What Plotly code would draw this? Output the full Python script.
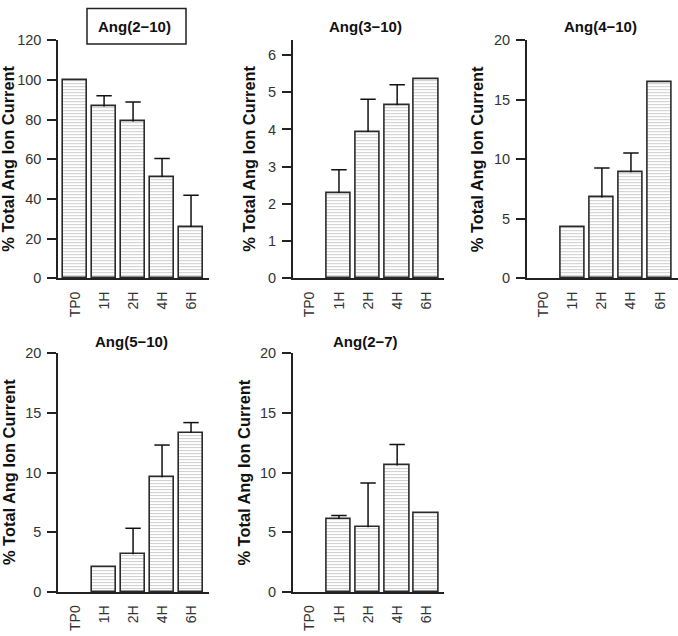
import plotly.graph_objects as go

# ---------------- data ----------------
categories = ["TP0", "1H", "2H", "4H", "6H"]

titles = ["Ang(2−10)", "Ang(3−10)", "Ang(4−10)", "Ang(5−10)", "Ang(2−7)"]

ang_2_10 = [100, 86.6, 79.0, 51.0, 25.9]
ang_2_10_err = [None, 5.4, 9.8, 9.4, 15.9]

ang_3_10 = [0, 2.29, 3.93, 4.65, 5.35]
ang_3_10_err = [None, 0.63, 0.88, 0.55, None]

ang_4_10 = [0, 4.28, 6.78, 8.91, 16.46]
ang_4_10_err = [None, None, 2.48, 1.61, None]

ang_5_10 = [0, 2.04, 3.16, 9.61, 13.33]
ang_5_10_err = [None, None, 2.17, 2.69, 0.85]

ang_2_7 = [0, 6.12, 5.41, 10.58, 6.64]
ang_2_7_err = [None, 0.27, 3.71, 1.77, None]

y_ranges = [[0, 120], [0, 6.4], [0, 20], [0, 20], [0, 20]]
y_dticks = [20, 1, 5, 5, 5]
y_title = "% Total Ang Ion Current"

series = [ang_2_10, ang_3_10, ang_4_10, ang_5_10, ang_2_7]
errors = [ang_2_10_err, ang_3_10_err, ang_4_10_err, ang_5_10_err, ang_2_7_err]

# ---------------- layout geometry ----------------
W, H = 678, 636
col_px = [(58, 209), (292.7, 444.3), (526.7, 678)]
row_px = [(33, 277.3), (354, 599)]
panel_pos = [(0, 0), (0, 1), (0, 2), (1, 0), (1, 1)]
ytitle_x = [8.5, 249.5, 477, 8.5, 244]
title_x = [134, 365, 600, 131, 365]
title_y = [19, 342]

FONT = "Liberation Sans, Arial, sans-serif"
AXC = "#222222"

fig = go.Figure()
annotations = []

for i, (vals, errs) in enumerate(zip(series, errors)):
    r, c = panel_pos[i]
    n = i + 1
    xa = "x" if n == 1 else f"x{n}"
    ya = "y" if n == 1 else f"y{n}"
    err_up = [e if e is not None else 0 for e in errs]
    fig.add_trace(go.Bar(
        x=categories, y=vals,
        xaxis=xa, yaxis=ya,
        width=0.83,
        marker=dict(
            color="white",
            line=dict(color="#2a2a2a", width=[1.6 if v > 0 else 0 for v in vals]),
            pattern=dict(shape="-", fgcolor="#9c9c9c", bgcolor="white",
                         size=3, solidity=0.35),
        ),
        error_y=dict(type="data", array=err_up, arrayminus=[0] * len(err_up),
                     symmetric=False, color="#111111", thickness=1.5, width=0),
        showlegend=False,
        hoverinfo="skip",
    ))
    # error-bar caps
    fig.add_trace(go.Scatter(
        x=categories,
        y=[v + e if e is not None else None for v, e in zip(vals, errs)],
        xaxis=xa, yaxis=ya, mode="markers",
        marker=dict(symbol="line-ew", size=11, color="#111111",
                    line=dict(color="#111111", width=1.5)),
        showlegend=False, hoverinfo="skip",
    ))
    x0, x1 = col_px[c]
    y0, y1 = row_px[r]
    xd = [x0 / W, min(x1 / W, 1.0)]
    yd = [1 - y1 / H, 1 - y0 / H]
    xkey = "xaxis" if n == 1 else f"xaxis{n}"
    ykey = "yaxis" if n == 1 else f"yaxis{n}"
    fig.layout[xkey] = dict(
        domain=xd, anchor=ya, range=[-0.59, 4.62],
        showline=True, linecolor=AXC, linewidth=1.5,
        ticks="", tickangle=-90, showgrid=False, zeroline=False,
        tickfont=dict(family=FONT, size=14, color="#333333"),
        ticklabelstandoff=6, fixedrange=True,
    )
    fig.layout[ykey] = dict(
        domain=yd, anchor=xa, range=y_ranges[i], dtick=y_dticks[i], tick0=0,
        showline=True, linecolor=AXC, linewidth=1.5,
        ticks="outside", ticklen=9, tickwidth=1.5, tickcolor=AXC,
        showgrid=False, zeroline=False,
        tickfont=dict(family=FONT, size=14.5, color="#333333"),
        ticklabelstandoff=3, fixedrange=True,
    )
    # y-axis title
    annotations.append(dict(
        text=y_title, xref="paper", yref="paper",
        x=ytitle_x[i] / W, y=(yd[0] + yd[1]) / 2,
        xanchor="center", yanchor="middle", textangle=-90, showarrow=False,
        font=dict(family=FONT, size=16.4, color="#111111", weight="bold"),
    ))
    # panel title
    annotations.append(dict(
        text=titles[i], xref="paper", yref="paper",
        x=title_x[i] / W, y=1 - title_y[r] / H,
        xanchor="center", yanchor="middle", showarrow=False,
        font=dict(family=FONT, size=15, color="#111111", weight="bold"),
    ))

fig.update_layout(
    width=W, height=H,
    margin=dict(l=0, r=0, t=0, b=0),
    paper_bgcolor="white", plot_bgcolor="white",
    annotations=annotations,
    bargap=0,
    shapes=[dict(type="rect", xref="paper", yref="paper",
                 x0=87 / W, x1=186 / W, y0=1 - 37 / H, y1=1 - 0.5 / H,
                 line=dict(color="#222222", width=1.5))],
)

fig.write_html(
    "out.html",
    config={"displayModeBar": False},
    post_script="document.body.style.margin='0';document.body.style.padding='0';",
)
